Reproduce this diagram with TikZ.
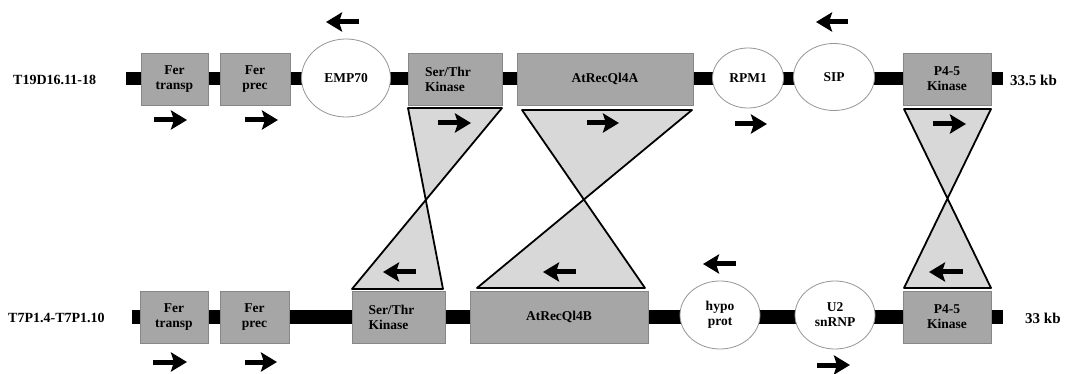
\documentclass[tikz,border=0pt]{standalone}
\usepackage{fontspec}
\setmainfont{Liberation Serif}
\usetikzlibrary{arrows.meta,shapes.geometric,calc}
\definecolor{boxgray}{RGB}{166,166,166}
\definecolor{boxedge}{RGB}{135,135,135}
\definecolor{trigray}{RGB}{216,216,216}
\definecolor{elledge}{RGB}{150,150,150}
\tikzset{
  genebox/.style={draw=boxedge, fill=boxgray, line width=0.8pt, minimum height=52pt,
    inner sep=0pt, font=\fontsize{13.5}{15}\selectfont\bfseries, align=center},
  geneell/.style={ellipse, draw=elledge, fill=white, line width=0.8pt, inner sep=0pt,
    font=\fontsize{13.5}{15}\selectfont\bfseries, align=center},
  backbone/.style={line width=13pt, black},
  tri/.style={fill=trigray},
  triline/.style={line width=1.8pt, black, line cap=round},
  dirarrow/.style={-{Stealth[length=16pt,width=19pt,inset=3pt]}, line width=5pt, black},
  rowlabel/.style={font=\fontsize{14}{16}\selectfont\bfseries, inner sep=0pt},
  kblabel/.style={font=\fontsize{15}{17}\selectfont\bfseries, inner sep=0pt}
}
\begin{document}
\begin{tikzpicture}[x=1pt,y=-1pt]
\useasboundingbox[fill=white] (0,0) rectangle (1077,374);

% backbones
\coordinate (L1) at (126,79);
\coordinate (R1) at (1003,79);
\coordinate (L2) at (132,317);
\coordinate (R2) at (1003,317);
\draw[backbone] (L1) -- (R1);
\draw[backbone] (L2) -- (R2);

% row labels
\node[rowlabel, anchor=west] (lab1) at (13,80) {T19D16.11-18};
\node[rowlabel, anchor=west] (lab2) at (8,318) {T7P1.4-T7P1.10};
\node[kblabel, anchor=west] (kb1) at (1010,80) {33.5 kb};
\node[kblabel, anchor=west] (kb2) at (1025,318) {33 kb};

% top row genes
\node[genebox, minimum width=67pt] (fert1) at (174.5,79) {Fer\\transp};
\node[genebox, minimum width=70pt] (ferp1) at (255,79) {Fer\\prec};
\node[geneell, minimum width=89pt, minimum height=78pt] (emp) at (346,78) {EMP70};
\node[genebox, minimum width=94pt, text width=60pt, align=left] (st1) at (455,79) {Ser/Thr\\Kinase};
\node[genebox, minimum width=176pt] (reca) at (605,79) {AtRecQl4A};
\node[geneell, minimum width=71pt, minimum height=60pt] (rpm) at (748,78) {RPM1};
\node[geneell, minimum width=81pt, minimum height=67pt] (sip) at (834,77) {SIP};
\node[genebox, minimum width=88pt] (pk1) at (947,79) {P4-5\\Kinase};

% bottom row genes
\node[genebox, minimum width=68pt] (fert2) at (174,317) {Fer\\transp};
\node[genebox, minimum width=69pt] (ferp2) at (254.5,317) {Fer\\prec};
\node[genebox, minimum width=93pt, text width=60pt, align=left] (st2) at (398.5,317) {Ser/Thr\\Kinase};
\node[genebox, minimum width=178pt] (recb) at (559,317) {AtRecQl4B};
\node[geneell, minimum width=80pt, minimum height=68pt] (hypo) at (720,315) {hypo\\prot};
\node[geneell, minimum width=80pt, minimum height=68pt] (u2) at (835,315) {U2\\snRNP};
\node[genebox, minimum width=88pt] (pk2) at (947,317) {P4-5\\Kinase};

% Ser/Thr inversion
\coordinate (s1) at (408,108);
\coordinate (s2) at (502,108);
\coordinate (s3) at (352,289);
\coordinate (s4) at (443,289);
\coordinate (sx) at (intersection of s1--s4 and s2--s3);
\fill[tri] (s1) -- (s2) -- (sx) -- cycle;
\fill[tri] (sx) -- (s3) -- (s4) -- cycle;
\draw[triline] (s1) -- (s2) (s1) -- (s4) (s2) -- (s3) (s3) -- (s4);

% AtRecQl4 inversion
\coordinate (a1) at (522,110);
\coordinate (a2) at (692,110);
\coordinate (a3) at (477,288);
\coordinate (a4) at (645,288);
\coordinate (ax) at (intersection of a1--a4 and a2--a3);
\fill[tri] (a1) -- (a2) -- (ax) -- cycle;
\fill[tri] (ax) -- (a3) -- (a4) -- cycle;
\draw[triline] (a1) -- (a2) (a1) -- (a4) (a2) -- (a3) (a3) -- (a4);

% P4-5 inversion
\coordinate (p1) at (904,109);
\coordinate (p2) at (991,109);
\coordinate (p3) at (904,288);
\coordinate (p4) at (991,288);
\coordinate (px) at (intersection of p1--p4 and p2--p3);
\fill[tri] (p1) -- (p2) -- (px) -- cycle;
\fill[tri] (px) -- (p3) -- (p4) -- cycle;
\draw[triline] (p1) -- (p2) (p1) -- (p4) (p2) -- (p3) (p3) -- (p4);

% direction arrows, top row
\draw[dirarrow] (359,22) -- (326,22);
\draw[dirarrow] (848,22) -- (816,22);
\draw[dirarrow] (154,120) -- (187,120);
\draw[dirarrow] (245,120) -- (278,120);
\draw[dirarrow] (438,123) -- (471,123);
\draw[dirarrow] (587,123) -- (619,123);
\draw[dirarrow] (735,124) -- (767,124);
\draw[dirarrow] (933,124) -- (966,124);

% direction arrows, bottom row
\draw[dirarrow] (416,272) -- (383,272);
\draw[dirarrow] (576,272) -- (543,272);
\draw[dirarrow] (736,264) -- (703,264);
\draw[dirarrow] (963,272) -- (929,272);
\draw[dirarrow] (153,362) -- (187,362);
\draw[dirarrow] (245,362) -- (277,362);
\draw[dirarrow] (817,365) -- (850,365);
\end{tikzpicture}
\end{document}
